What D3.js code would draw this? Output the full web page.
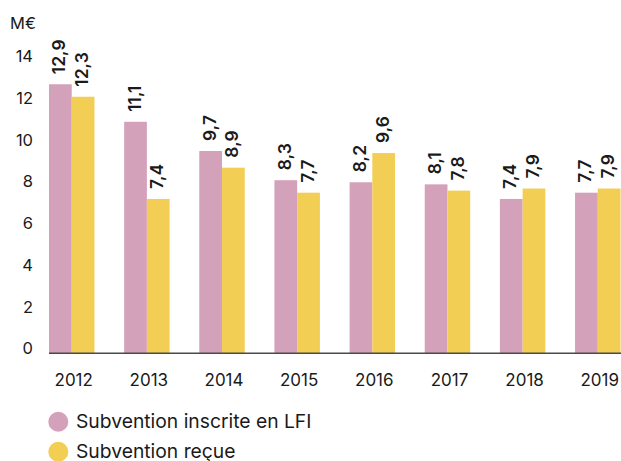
<!DOCTYPE html>
<html>
<head>
<meta charset="utf-8">
<script src="https://cdn.jsdelivr.net/npm/d3@7"></script>
<style>
  body { margin: 0; background: #fff; }
  text { font-family: Inter, "Liberation Sans", sans-serif; fill: #1a1a1a; }
</style>
</head>
<body>
<svg id="chart"></svg>
<script>
// Data
const years = ["2012", "2013", "2014", "2015", "2016", "2017", "2018", "2019"];
const inscrite = [12.9, 11.1, 9.7, 8.3, 8.2, 8.1, 7.4, 7.7];
const recue = [12.3, 7.4, 8.9, 7.7, 9.6, 7.8, 7.9, 7.9];
const yTicks = [0, 2, 4, 6, 8, 10, 12, 14];
const seriesNames = ["Subvention inscrite en LFI", "Subvention reçue"];
const colors = ["#d4a1bb", "#f2ce55"];

const width = 621, height = 461;

const svg = d3.select("#chart")
    .attr("width", width)
    .attr("height", height);

// Scales
const x0 = d3.scaleBand()
    .domain(years)
    .range([49, 620.5])
    .paddingInner(0.395)
    .paddingOuter(0);

const x1 = d3.scaleBand()
    .domain([0, 1])
    .range([0, x0.bandwidth()]);

const y = d3.scaleLinear()
    .domain([0, 14])
    .range([353.3, 61.3]);

const fr = d3.formatLocale({ decimal: ",", thousands: " ", grouping: [3], currency: ["", "€"] });
const fmt = fr.format(".1f");

// Unit label
svg.append("text")
    .attr("x", 10)
    .attr("y", 29)
    .attr("font-size", 16.5)
    .text("M€");

// Y tick labels
svg.selectAll(".ytick")
    .data(yTicks)
    .join("text")
    .attr("class", "ytick")
    .attr("x", 33)
    .attr("y", d => y(d) + 1)
    .attr("text-anchor", "end")
    .attr("font-size", 16.5)
    .text(d => d);

// Bars
const rows = years.map((yr, i) => ({ year: yr, values: [inscrite[i], recue[i]] }));

const groups = svg.selectAll(".group")
    .data(rows)
    .join("g")
    .attr("class", "group")
    .attr("transform", d => `translate(${x0(d.year)},0)`);

groups.selectAll("rect")
    .data(d => d.values.map((v, k) => ({ v, k })))
    .join("rect")
    .attr("x", d => x1(d.k))
    .attr("y", d => y(d.v))
    .attr("width", x1.bandwidth())
    .attr("height", d => y(0) - y(d.v))
    .attr("fill", d => colors[d.k]);

// Value labels, rotated
groups.selectAll(".val")
    .data(d => d.values.map((v, k) => ({ v, k })))
    .join("text")
    .attr("class", "val")
    .attr("font-size", 17.5)
    .attr("font-weight", 600)
    .attr("transform", d => `translate(${x1(d.k) + x1.bandwidth() / 2 + 5},${y(d.v) - 10}) rotate(-90)`)
    .text(d => fmt(d.v));

// Baseline
svg.append("line")
    .attr("x1", 49)
    .attr("x2", width)
    .attr("y1", y(0))
    .attr("y2", y(0))
    .attr("stroke", "#4a4a4a")
    .attr("stroke-width", 1.6);

// X labels
svg.selectAll(".xtick")
    .data(years)
    .join("text")
    .attr("class", "xtick")
    .attr("x", d => x0(d) + x0.bandwidth() / 2 + 2)
    .attr("y", 386)
    .attr("text-anchor", "middle")
    .attr("font-size", 17)
    .text(d => d);

// Legend
const legend = svg.selectAll(".legend")
    .data(seriesNames)
    .join("g")
    .attr("class", "legend")
    .attr("transform", (d, i) => `translate(0,${421.7 + i * 30})`);

legend.append("circle")
    .attr("cx", 58.3)
    .attr("cy", 0)
    .attr("r", 10)
    .attr("fill", (d, i) => colors[i]);

legend.append("text")
    .attr("x", 76)
    .attr("y", 6.5)
    .attr("font-size", 19.3)
    .text(d => d);
</script>
</body>
</html>
